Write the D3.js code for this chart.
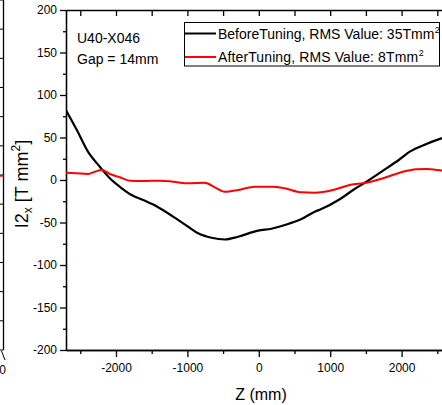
<!DOCTYPE html>
<html>
<head>
<meta charset="utf-8">
<script src="https://cdn.jsdelivr.net/npm/d3@7"></script>
<style>
  body { margin: 0; background: #fff; }
  svg { display: block; font-family: "Liberation Sans", Arial, sans-serif; }
  .axis path, .axis line { stroke: #000; }
  .axis text { font-size: 12px; fill: #000; font-family: "Liberation Sans", Arial, sans-serif; }
</style>
</head>
<body>
<svg id="chart" width="442" height="405"></svg>
<script>
// === DATA ===
const zBefore = [-2700, -2550, -2390, -2226, -2086, -1946, -1782, -1620, -1410, -1200, -990, -850, -662, -476, -290, -10, 178, 364, 598, 784, 854, 1134, 1320, 1508, 1740, 1974, 2114, 2348, 2558, 2700];
const vBefore = [82, 59, 33, 15.6, 2, -8, -17.6, -23.5, -32, -43, -55, -62.7, -68, -70, -66.7, -59.6, -57.3, -53, -46, -37.3, -35, -22.7, -11.8, -2, 11, 24.4, 33.3, 42.4, 49, 52];

const zAfter = [-2700, -2552, -2390, -2296, -2202, -2086, -1946, -1806, -1620, -1386, -1200, -990, -756, -616, -476, -290, -56, 178, 364, 598, 784, 1040, 1274, 1508, 1740, 1974, 2208, 2348, 2558, 2700];
const vAfter = [8.6, 7.9, 7.1, 9.8, 11.8, 7.1, 3.2, -0.8, -1.2, -0.8, -2, -3.9, -3.2, -8.6, -13.8, -11.8, -7.9, -7.9, -9.8, -14.5, -14.9, -11.8, -5.9, -3.2, 2, 8.6, 12.6, 12.9, 11.2, 10];

const yMajor = [-200, -150, -100, -50, 0, 50, 100, 150, 200];
const yMinor = [-175, -125, -75, -25, 25, 75, 125, 175];
const xMajor = [-2000, -1000, 0, 1000, 2000];
const xMinor = [-2500, -1500, -500, 500, 1500, 2500];

const legendLabels = ["BeforeTuning, RMS Value: 35Tmm", "AfterTuning, RMS Value: 8Tmm"];
const legendSpacing = [0, 0.12];
const colors = ["#000000", "#ff0000"];

// fragment of the neighbouring panel on the left
const leftTicks = [0, 1, 2, 3, 4, 5, 6, 7, 8, 9, 10, 11, 12];
const leftRedValue = 5.97;

// === LAYOUT ===
const svg = d3.select("#chart");
const L = 66, R = 451.6, T = 10, B = 350;

const x = d3.scaleLinear().domain([-2700, 2700]).range([L, R]);
const y = d3.scaleLinear().domain([-200, 200]).range([B, T]);
const plain = d => String(d);

// === LEFT PANEL FRAGMENT ===
const yLeft = d3.scaleLinear().domain([0, 12]).range([350, 0]);
svg.append("line").attr("x1", 3.5).attr("x2", 3.5).attr("y1", 0).attr("y2", 350)
  .attr("stroke", "#000").attr("stroke-width", 1.3);
svg.selectAll(".lt").data(leftTicks).join("line")
  .attr("x1", 0).attr("x2", 3.5)
  .attr("y1", d => yLeft(d)).attr("y2", d => yLeft(d))
  .attr("stroke", "#000").attr("stroke-width", 1);
svg.append("line").attr("x1", 0).attr("x2", 3.5)
  .attr("y1", yLeft(leftRedValue)).attr("y2", yLeft(leftRedValue))
  .attr("stroke", "#ff0000").attr("stroke-width", 1.6);
svg.append("line").attr("x1", 1.5).attr("y1", 351).attr("x2", 5).attr("y2", 360)
  .attr("stroke", "#000").attr("stroke-width", 1);
svg.append("text").attr("x", 6).attr("y", 374).attr("text-anchor", "end")
  .attr("font-size", 12).text("0");

// === AXES ===
const axisStyle = g => g.attr("class", "axis").call(g => g.selectAll("path, line").attr("stroke-width", 1.3));

svg.append("g").attr("transform", `translate(${L},0)`)
  .call(d3.axisLeft(y).tickValues(yMajor).tickFormat(plain).tickSize(6).tickPadding(3).tickSizeOuter(0))
  .call(axisStyle);
svg.append("g").attr("transform", `translate(${L},0)`)
  .call(d3.axisLeft(y).tickValues(yMinor).tickSize(3).tickFormat("").tickSizeOuter(0))
  .call(axisStyle);

svg.append("g").attr("transform", `translate(0,${B})`)
  .call(d3.axisBottom(x).tickValues(xMajor).tickFormat(plain).tickSize(7).tickPadding(6).tickSizeOuter(0))
  .call(axisStyle);
svg.append("g").attr("transform", `translate(0,${B})`)
  .call(d3.axisBottom(x).tickValues(xMinor).tickSize(4).tickFormat("").tickSizeOuter(0))
  .call(axisStyle);

svg.append("g").attr("transform", `translate(0,${T})`)
  .call(d3.axisBottom(x).tickValues(xMajor.concat(xMinor)).tickSize(6).tickFormat("").tickSizeOuter(0))
  .call(axisStyle);

// === CURVES ===
svg.append("clipPath").attr("id", "plot-clip")
  .append("rect").attr("x", L).attr("y", T).attr("width", R - L).attr("height", B - T);

const line = d3.line().x(d => x(d[0])).y(d => y(d[1])).curve(d3.curveMonotoneX);

const series = [
  { z: zBefore, v: vBefore, color: colors[0], width: 2.2 },
  { z: zAfter, v: vAfter, color: colors[1], width: 2 }
];
series.forEach(s => {
  svg.append("path")
    .datum(s.z.map((z, i) => [z, s.v[i]]))
    .attr("clip-path", "url(#plot-clip)")
    .attr("fill", "none")
    .attr("stroke", s.color)
    .attr("stroke-width", s.width)
    .attr("stroke-linejoin", "round")
    .attr("d", line);
});

// === ANNOTATION ===
const note = svg.append("text").attr("font-size", 14).attr("fill", "#000");
note.append("tspan").attr("x", 77).attr("y", 43).text("U40-X046");
note.append("tspan").attr("x", 77).attr("y", 64).text("Gap = 14mm");

// === LEGEND ===
const legend = svg.append("g");
legend.append("rect").attr("x", 184.5).attr("y", 22.5).attr("width", 255).attr("height", 43.5)
  .attr("fill", "#fff").attr("stroke", "#000").attr("stroke-width", 1);
legendLabels.forEach((lab, i) => {
  const ly = 33.5 + i * 23.5;
  legend.append("line").attr("x1", 185).attr("x2", 216).attr("y1", ly).attr("y2", ly)
    .attr("stroke", colors[i]).attr("stroke-width", 2);
  const t = legend.append("text").attr("x", 218).attr("y", ly + 5).attr("font-size", 14);
  t.append("tspan").attr("letter-spacing", legendSpacing[i]).text(lab);
  t.append("tspan").attr("font-size", 9).attr("dx", 0.5).attr("dy", -6).text("2");
});

// === AXIS TITLES ===
svg.append("text").attr("x", 261).attr("y", 400).attr("text-anchor", "middle")
  .attr("font-size", 16).text("Z (mm)");

const yl = svg.append("text")
  .attr("transform", "translate(28,184) rotate(-90)")
  .attr("text-anchor", "middle").attr("font-size", 18);
yl.append("tspan").text("I2");
yl.append("tspan").attr("font-size", 12).attr("dy", 4).text("x");
yl.append("tspan").attr("dy", -4).text(" [T mm");
yl.append("tspan").attr("font-size", 12).attr("dy", -8).text("2");
yl.append("tspan").attr("dy", 8).text("]");
</script>
</body>
</html>
